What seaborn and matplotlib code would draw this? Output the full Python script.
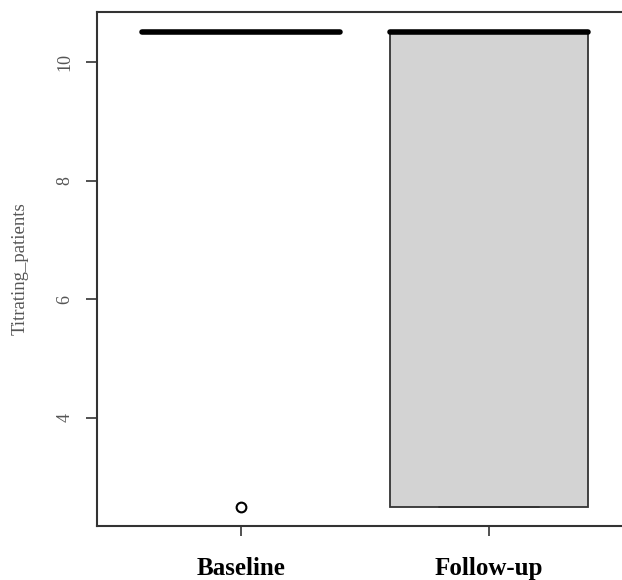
import pandas as pd
import seaborn as sns
import matplotlib.pyplot as plt

# Data
baseline_values = [2.5, 10.5, 10.5, 10.5, 10.5]
followup_values = [2.5, 2.5, 10.5, 10.5, 10.5]
groups = ["Baseline", "Follow-up"]
y_ticks = [4, 6, 8, 10]

df = pd.DataFrame({
    "group": ["Baseline"] * len(baseline_values) + ["Follow-up"] * len(followup_values),
    "Titrating_patients": baseline_values + followup_values,
})

sns.set_style("white")
plt.rcParams["font.family"] = ["Liberation Serif", "DejaVu Serif"]

fig = plt.figure(figsize=(6.22, 5.80), dpi=100)
# right edge of the plot region sits just outside the picture, like the cropped original
ax = fig.add_axes([97 / 622, 1 - 526 / 580, (633 - 97) / 622, (526 - 12) / 580])

sns.boxplot(
    data=df,
    x="group",
    y="Titrating_patients",
    hue="group",
    order=groups,
    palette=["white", "#d3d3d3"],
    width=0.8,
    linecolor="#333333",
    linewidth=1.3,
    legend=False,
    medianprops=dict(color="black", linewidth=4, solid_capstyle="round"),
    flierprops=dict(marker="o", markerfacecolor="none", markeredgecolor="black",
                    markersize=7, markeredgewidth=1.5),
    ax=ax,
)

ax.set_xlim(-0.58, 1.58)
ax.set_ylim(2.18, 10.84)
ax.set_yticks(y_ticks)
ax.set_yticklabels([str(t) for t in y_ticks], rotation=90, va="center",
                   color="#555555", fontsize=13)
ax.set_xticks([0, 1])
ax.set_xticklabels(groups, fontsize=18, fontweight="bold", color="black")
ax.tick_params(axis="y", direction="out", length=8, width=1.2, color="#333333", pad=9, left=True)
ax.tick_params(axis="x", direction="out", length=7.2, width=1.2, color="#333333", pad=15, bottom=True)
ax.set_xlabel("")
ax.set_ylabel("Titrating_patients", color="#555555", fontsize=13.5, labelpad=20)

for side in ["left", "bottom", "top", "right"]:
    ax.spines[side].set_visible(True)
    ax.spines[side].set_color("#333333")
    ax.spines[side].set_linewidth(1.5)

fig.savefig("out.png", dpi=100)
